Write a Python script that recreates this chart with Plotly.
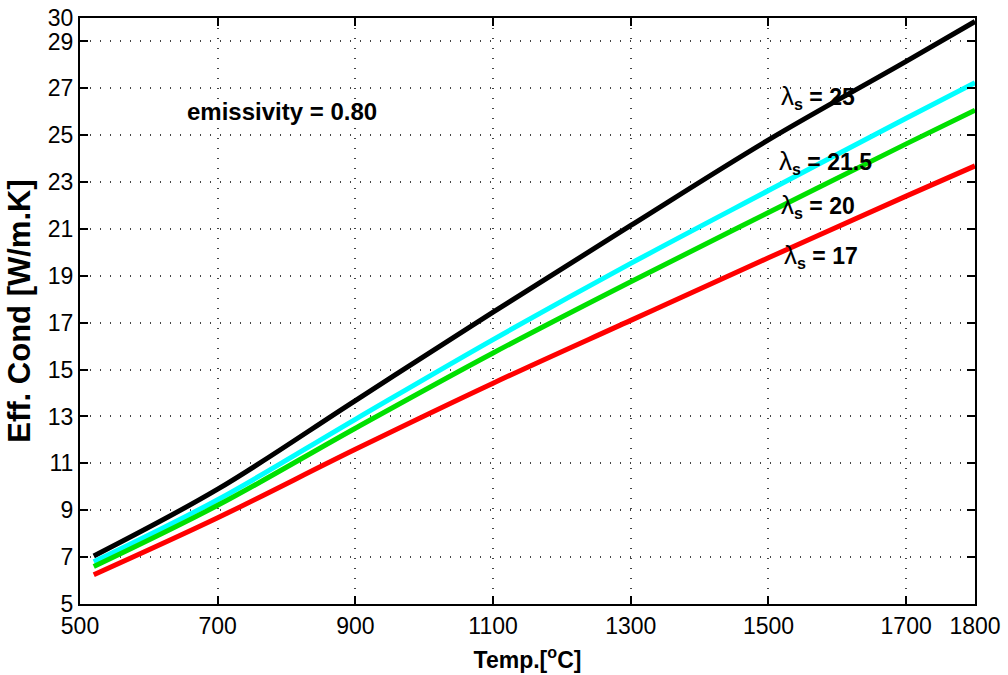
import plotly.graph_objects as go

# Temperature samples (°C) and effective conductivity (W/m.K) for each solid conductivity
temp = [520, 700, 900, 1100, 1300, 1500, 1700, 1800]
k_25 = [7.05, 9.90, 13.68, 17.45, 21.15, 24.80, 28.15, 29.85]
k_21_5 = [6.80, 9.45, 12.88, 16.28, 19.53, 22.64, 25.72, 27.24]
k_20 = [6.60, 9.21, 12.50, 15.71, 18.75, 21.70, 24.63, 26.07]
k_17 = [6.25, 8.68, 11.60, 14.42, 17.10, 19.77, 22.40, 23.69]

x_ticks = [500, 700, 900, 1100, 1300, 1500, 1700, 1800]
y_ticks = [5, 7, 9, 11, 13, 15, 17, 19, 21, 23, 25, 27, 29, 30]

series = [
    (k_25, "#000000", "25"),
    (k_21_5, "#00FFFF", "21.5"),
    (k_20, "#00E000", "20"),
    (k_17, "#FF0000", "17"),
]

FONT = "Liberation Sans, Arial"

fig = go.Figure()
for vals, color, name in series:
    fig.add_trace(go.Scatter(
        x=temp, y=vals, mode="lines", name=name,
        line=dict(color=color, width=5, shape="spline", smoothing=1.0),
        showlegend=False,
    ))

# Curve labels (λ_s values)
label_pos = [("25", 1516, 26.63), ("21.5", 1512, 23.86), ("20", 1516, 21.98), ("17", 1519, 19.85)]
for name, x, y in label_pos:
    fig.add_annotation(
        x=x, y=y, xref="x", yref="y", xanchor="left", yanchor="middle",
        text="<span style='font-size:26px'>λ</span><sub><b>s</b></sub><b> = " + name + "</b>",
        showarrow=False, font=dict(family=FONT, size=23, color="black"),
    )

fig.add_annotation(
    x=793, y=25.99, xref="x", yref="y", xanchor="center", yanchor="middle",
    text="<b>emissivity = 0.80</b>", showarrow=False,
    font=dict(family=FONT, size=24, color="black"),
)

axis_common = dict(
    showline=True, linewidth=2, linecolor="black", mirror="allticks",
    ticks="inside", ticklen=8, tickwidth=1.5, tickcolor="black",
    showgrid=True, gridcolor="#444444", griddash="1px,9px", gridwidth=1.5,
    zeroline=False, automargin=False,
    tickfont=dict(family=FONT, size=23, color="black"),
)

fig.update_xaxes(
    range=[500, 1800], tickmode="array", tickvals=x_ticks,
    ticktext=[str(v) for v in x_ticks],
    title=dict(text="<b>Temp.[<sup>o</sup>C]</b>", standoff=14,
               font=dict(family=FONT, size=23, color="black")),
    **axis_common,
)
fig.update_yaxes(
    range=[5, 30], tickmode="array", tickvals=y_ticks,
    ticktext=[str(v) for v in y_ticks],
    title=dict(text="<b>Eff. Cond [W/m.K]</b>", standoff=8,
               font=dict(family=FONT, size=31, color="black")),
    **axis_common,
)

fig.update_layout(
    width=1008, height=675,
    margin=dict(l=80, r=33, t=18, b=71),
    plot_bgcolor="white", paper_bgcolor="white",
)

fig.write_html("out.html")
